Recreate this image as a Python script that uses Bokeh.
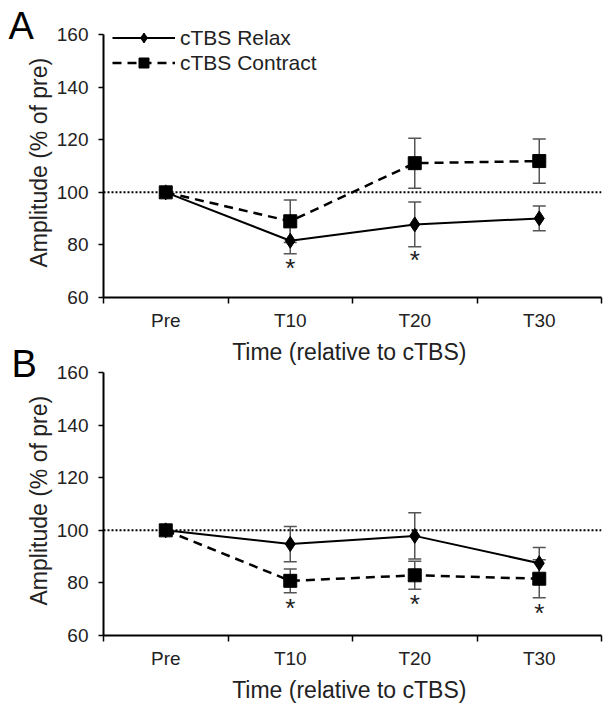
from bokeh.plotting import figure
from bokeh.models import (ColumnDataSource, Whisker, TeeHead, Span, Legend, LegendItem,
                          FixedTicker, Range1d)
from bokeh.layouts import column
from bokeh.embed import file_html
from bokeh.resources import INLINE
from bokeh.core.properties import value

categories = ["Pre", "T10", "T20", "T30"]
y_ticks = [60, 80, 100, 120, 140, 160]

# Panel A
relax_A = [100, 81.6, 87.8, 90.1]
relax_A_err = [0, 5.0, 8.5, 4.7]
contract_A = [100, 89.0, 111.1, 111.9]
contract_A_err = [0, 8.1, 9.5, 8.4]
star_A_idx = [1, 2]
star_A_y = [71.3, 74.4]

# Panel B
relax_B = [100, 94.8, 97.9, 87.5]
relax_B_err = [0, 6.7, 8.8, 6.0]
contract_B = [100, 80.8, 82.9, 81.6]
contract_B_err = [0, 4.5, 5.3, 7.2]
star_B_idx = [1, 2, 3]
star_B_y = [70.6, 71.8, 68.7]

FONT = "Liberation Sans"
TXT = "#222222"
ERR_COLOR = "#555555"


def make_panel(letter, letter_offset, relax, relax_err, contract, contract_err,
               star_idx, star_y, show_legend, top_border):
    n = len(categories)
    xs = [i + 0.5 for i in range(n)]
    p = figure(x_range=Range1d(0, n), y_range=Range1d(60, 165),
               frame_width=498, frame_height=276,
               output_backend="svg", toolbar_location=None,
               min_border_left=103, min_border_right=10,
               min_border_top=top_border, min_border_bottom=66,
               background_fill_alpha=0, border_fill_alpha=0,
               outline_line_color=None, title=letter)
    p.grid.visible = False

    t = p.title
    t.text_font = FONT
    t.text_font_size = "38px"
    t.text_font_style = "normal"
    t.text_color = "black"
    t.align = "left"
    t.vertical_align = "bottom"
    t.offset = letter_offset
    t.standoff = -50

    # reference line
    p.add_layout(Span(location=100, dimension="width", line_color="black",
                      line_width=2, line_dash="2 2"))

    def whisk(mean, err):
        idx = [i for i in range(n) if err[i] > 0]
        src = ColumnDataSource(dict(
            x=[xs[i] for i in idx],
            upper=[mean[i] + err[i] for i in idx],
            lower=[mean[i] - err[i] for i in idx]))
        w = Whisker(source=src, base="x", upper="upper", lower="lower",
                    line_color=ERR_COLOR, line_width=1.5,
                    upper_head=TeeHead(size=13, line_color=ERR_COLOR, line_width=1.5),
                    lower_head=TeeHead(size=13, line_color=ERR_COLOR, line_width=1.5))
        p.add_layout(w)

    whisk(relax, relax_err)
    whisk(contract, contract_err)

    lr = p.line(xs, relax, line_color="black", line_width=2)
    lc = p.line(xs, contract, line_color="black", line_width=2.5, line_dash="9 6")
    mr = p.scatter(xs, relax, marker="diamond", size=15, color="black")
    mc = p.scatter(xs, contract, marker="square", size=13, color="black")

    p.text(x=[xs[i] for i in star_idx], y=star_y, text=["*"] * len(star_idx),
           text_font=value(FONT), text_font_size="26px", text_color=TXT,
           text_align="center", text_baseline="middle")

    # x axis: labels at category centres, ticks between categories
    xa = p.xaxis[0]
    xa.ticker = FixedTicker(ticks=xs, minor_ticks=list(range(n + 1)))
    xa.major_label_overrides = {x: c for x, c in zip(xs, categories)}
    xa.major_tick_out = 0
    xa.major_tick_in = 0
    xa.minor_tick_out = 6
    xa.minor_tick_in = 0
    xa.minor_tick_line_color = "black"
    xa.minor_tick_line_width = 1.5
    xa.axis_line_width = 2
    xa.axis_line_color = "black"
    xa.major_label_standoff = 6
    xa.major_label_text_font = FONT
    xa.major_label_text_font_size = "19px"
    xa.major_label_text_color = TXT
    xa.axis_label = "Time  (relative to cTBS)"
    xa.axis_label_text_font = FONT
    xa.axis_label_text_font_size = "23px"
    xa.axis_label_text_font_style = "normal"
    xa.axis_label_text_color = TXT
    xa.axis_label_standoff = 5

    ya = p.yaxis[0]
    ya.ticker = FixedTicker(ticks=y_ticks)
    ya.bounds = (y_ticks[0], y_ticks[-1])
    ya.major_tick_out = 5
    ya.major_tick_in = 0
    ya.major_tick_line_width = 1.5
    ya.minor_tick_line_color = None
    ya.axis_line_width = 2
    ya.axis_line_color = "black"
    ya.major_label_standoff = 10
    ya.major_label_text_font = FONT
    ya.major_label_text_font_size = "19px"
    ya.major_label_text_color = TXT
    ya.axis_label = "Amplitude  (% of pre)"
    ya.axis_label_text_font = FONT
    ya.axis_label_text_font_size = "23px"
    ya.axis_label_text_font_style = "normal"
    ya.axis_label_text_color = TXT
    ya.axis_label_standoff = 2

    if show_legend:
        legend = Legend(items=[LegendItem(label="cTBS Relax", renderers=[lr, mr]),
                               LegendItem(label="cTBS Contract", renderers=[lc, mc])],
                        location=(9, 222), glyph_width=63, glyph_height=25,
                        label_height=25, label_standoff=5, spacing=0, padding=0,
                        margin=0, border_line_alpha=0, background_fill_alpha=0,
                        label_text_font=FONT, label_text_font_size="21px",
                        label_text_color=TXT)
        p.add_layout(legend)

    return p


pA = make_panel("A", -95, relax_A, relax_A_err, contract_A, contract_A_err,
                star_A_idx, star_A_y, True, 21)
pB = make_panel("B", -92, relax_B, relax_B_err, contract_B, contract_B_err,
                star_B_idx, star_B_y, False, 20)
pB.margin = (-28, 0, 0, 0)

layout = column(pA, pB)
open("out.html", "w").write(file_html(layout, INLINE))
